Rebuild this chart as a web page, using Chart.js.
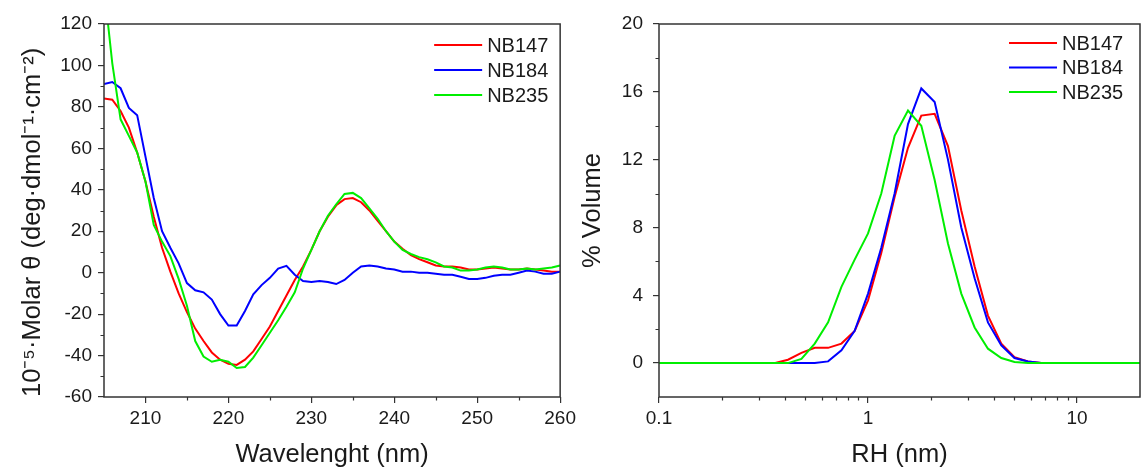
<!DOCTYPE html>
<html>
<head>
<meta charset="utf-8">
<script src="https://cdn.jsdelivr.net/npm/chart.js@4.4.1/dist/chart.umd.min.js"></script>
<style>
  body { margin: 0; background: #fff; }
  #wrap { position: relative; width: 1141px; height: 468px; overflow: hidden; }
  canvas { position: absolute; top: 0; }
  #cd  { left: 0; }
  #dls { left: 580px; }
</style>
</head>
<body>
<div id="wrap">
  <canvas id="cd" width="580" height="468"></canvas>
  <canvas id="dls" width="561" height="468"></canvas>
</div>
<script>
/* ---------- DATA : CD spectra ---------- */
const seriesNames = ["NB147", "NB184", "NB235"];

const cdWave = [205,206,207,208,209,210,211,212,213,214,215,216,217,218,219,220,
  221,222,223,224,225,226,227,228,229,230,231,232,233,234,235,236,237,238,239,240,
  241,242,243,244,245,246,247,248,249,250,251,252,253,254,255,256,257,258,259,260];

const cdNB147 = [84,83.5,78,70,58,44,27,12,0.5,-10,-19,-27,-33,-38.5,-42,-44,
  -44.5,-42,-38,-32,-26,-18.5,-11,-3.5,3,11,20,27,32.5,35.5,36,34,30,25,20,15,
  11.5,8.5,6.5,5,3.5,3,3,2.5,1.5,1.5,2,2.5,2,1.5,1.5,2,1.5,1,0.5,0.5];

const cdNB184 = [91,92,89,79.5,76,56,36,20,12,4.5,-5,-8.5,-9.5,-13,-20,-25.5,
  -25.5,-18.5,-10.5,-6,-2.5,2,3.3,-1,-4,-4.5,-4,-4.5,-5.5,-3.5,0,3,3.5,3,2,1.5,
  0.5,0.5,0,0,-0.5,-1,-1,-2,-3,-3,-2.5,-1.5,-1,-1,0,1,0.5,-0.5,-0.5,0.5];

const cdNB235 = [138,101,74,66,58,44,23,15,8,-3,-16,-33,-40.5,-43,-42,-43,
  -46,-45.5,-41,-35,-29,-23,-16.5,-9.5,2,11,20,27.5,33,38,38.5,36,31,26,20,15,
  11,9,7.5,6.5,5,3,2.5,1,1,1.5,2.5,3,2.5,1.5,1.5,2,1.5,2,2.5,3.5];

const cdXTicks  = [210, 220, 230, 240, 250, 260];
const cdXMinor  = [215, 225, 235, 245, 255];
const cdYMinor  = [110, 90, 70, 50, 30, 10, -10, -30, -50];

/* ---------- DATA : DLS volume distribution ---------- */
const rhSize = [0.1,0.36,0.414,0.48,0.556,0.644,0.746,0.863,1.0,1.157,1.34,1.553,
  1.798,2.083,2.412,2.793,3.235,3.747,4.34,5.02,5.82,6.74,20];

const volNB147 = [0,0,0.2,0.6,0.9,0.9,1.15,1.9,3.7,6.5,9.8,12.7,
  14.6,14.7,12.8,9.0,5.7,2.8,1.15,0.35,0.1,0,0];
const volNB184 = [0,0,0,0,0,0.1,0.75,1.9,4.1,6.8,10.0,14.1,
  16.2,15.4,12.0,8.0,5.0,2.4,1.05,0.3,0.1,0,0];
const volNB235 = [0,0,0,0.25,1.15,2.4,4.5,6.1,7.65,10.0,13.4,14.9,
  14.0,10.8,7.05,4.1,2.1,0.85,0.3,0.06,0,0,0];

const rhXTicks = [0.1, 1, 10];
const rhXMinor = [0.2,0.3,0.4,0.5,0.6,0.7,0.8,0.9,2,3,4,5,6,7,8,9];
const rhYTicks = [0, 4, 8, 12, 16, 20];
const rhYMinor = [18, 14, 10, 6, 2];

/* ---------- STYLE ---------- */
const colors = ["#ff0000", "#0000ff", "#00ee00"];
const AXIS = "#333";
const TEXT = "#1a1a1a";
Chart.defaults.font.family = "'Liberation Sans', Arial, sans-serif";
Chart.defaults.color = TEXT;

/* ---------- PLUGIN: frame, minor ticks, inside legend ---------- */
const deco = {
  id: "deco",
  afterDatasetsDraw(chart, args, opts) {
    const { ctx, chartArea: a, scales } = chart;
    ctx.save();
    ctx.strokeStyle = AXIS;
    ctx.lineWidth = 1.5;
    ctx.strokeRect(a.left, a.top, a.right - a.left, a.bottom - a.top);

    // minor ticks (outside)
    ctx.lineWidth = 1.2;
    ctx.beginPath();
    opts.minorX.forEach(v => {
      const px = Math.round(scales.x.getPixelForValue(v)) + 0.5;
      ctx.moveTo(px, a.bottom); ctx.lineTo(px, a.bottom + 3.5);
    });
    opts.minorY.forEach(v => {
      const py = Math.round(scales.y.getPixelForValue(v)) + 0.5;
      ctx.moveTo(a.left, py); ctx.lineTo(a.left - 3.5, py);
    });
    ctx.stroke();

    // legend
    ctx.font = "20px 'Liberation Sans', Arial, sans-serif";
    ctx.textBaseline = "middle";
    ctx.fillStyle = TEXT;
    chart.data.datasets.forEach((ds, i) => {
      const y  = a.top + opts.legendTop + i * opts.legendStep;
      const x0 = a.right - opts.legendRight;
      ctx.strokeStyle = ds.borderColor;
      ctx.lineWidth = 2;
      ctx.beginPath(); ctx.moveTo(x0, y); ctx.lineTo(x0 + 48, y); ctx.stroke();
      ctx.fillText(ds.label, x0 + 53, y + 1);
    });
    ctx.restore();
  }
};

function makeSets(xs, ys) {
  return ys.map((vals, i) => ({
    label: seriesNames[i],
    data: xs.map((x, j) => ({ x, y: vals[j] })),
    borderColor: colors[i],
    backgroundColor: colors[i],
    borderWidth: 2,
    pointRadius: 0,
    tension: 0,
    order: 2 - i            // later series drawn on top
  }));
}

const tickFont  = { size: 19 };
const titleFont = { size: 25.5, lineHeight: 1 };
const gridOpts  = { drawOnChartArea: false, tickLength: 6, color: AXIS, lineWidth: 1.2 };

/* ---------- LEFT: CD ---------- */
new Chart(document.getElementById("cd"), {
  type: "line",
  data: { datasets: makeSets(cdWave, [cdNB147, cdNB184, cdNB235]) },
  options: {
    responsive: false,
    animation: false,
    layout: { padding: { top: 24, right: 18, bottom: 0, left: 0 } },
    plugins: {
      legend: { display: false },
      tooltip: { enabled: false },
      deco: { minorX: cdXMinor, minorY: cdYMinor, legendTop: 21, legendStep: 25, legendRight: 126 }
    },
    scales: {
      x: {
        type: "linear", min: 205, max: 260,
        afterBuildTicks: s => { s.ticks = cdXTicks.map(v => ({ value: v })); },
        afterFit: s => { s.height = 71; },
        ticks: { font: tickFont, padding: 4, maxRotation: 0, autoSkip: false },
        grid: gridOpts,
        border: { display: false },
        title: { display: true, text: "Wavelenght (nm)", font: titleFont, padding: { top: 0, bottom: 0 } }
      },
      y: {
        min: -60, max: 120,
        ticks: { stepSize: 20, font: tickFont, padding: 6 },
        afterFit: s => { s.width = 104; },
        grid: gridOpts,
        border: { display: false },
        title: { display: true, align: "start",
                 text: "10\u207B\u2075\u00B7Molar \u03B8 (deg\u00B7dmol\u207B\u00B9\u00B7cm\u207B\u00B2)",
                 font: titleFont, padding: { top: 20, bottom: 0 } }
      }
    }
  },
  plugins: [deco]
});

/* ---------- RIGHT: DLS ---------- */
new Chart(document.getElementById("dls"), {
  type: "line",
  data: { datasets: makeSets(rhSize, [volNB147, volNB184, volNB235]) },
  options: {
    responsive: false,
    animation: false,
    layout: { padding: { top: 24, right: 1, bottom: 0, left: 0 } },
    plugins: {
      legend: { display: false },
      tooltip: { enabled: false },
      deco: { minorX: rhXMinor, minorY: rhYMinor, legendTop: 19, legendStep: 24.5, legendRight: 131 }
    },
    scales: {
      x: {
        type: "logarithmic", min: 0.1, max: 20,
        afterBuildTicks: s => { s.ticks = rhXTicks.map(v => ({ value: v })); },
        afterFit: s => { s.height = 71; },
        ticks: { font: tickFont, padding: 4, maxRotation: 0, autoSkip: false, callback: v => String(v) },
        grid: gridOpts,
        border: { display: false },
        title: { display: true, text: "RH (nm)", font: titleFont, padding: { top: 0, bottom: 0 } }
      },
      y: {
        min: -2, max: 20,
        afterBuildTicks: s => { s.ticks = rhYTicks.map(v => ({ value: v })); },
        afterFit: s => { s.width = 79; },
        ticks: { font: tickFont, padding: 10 },
        grid: gridOpts,
        border: { display: false },
        title: { display: true, text: "% Volume", font: titleFont, padding: { top: 0, bottom: 0 } }
      }
    }
  },
  plugins: [deco]
});
</script>
</body>
</html>
